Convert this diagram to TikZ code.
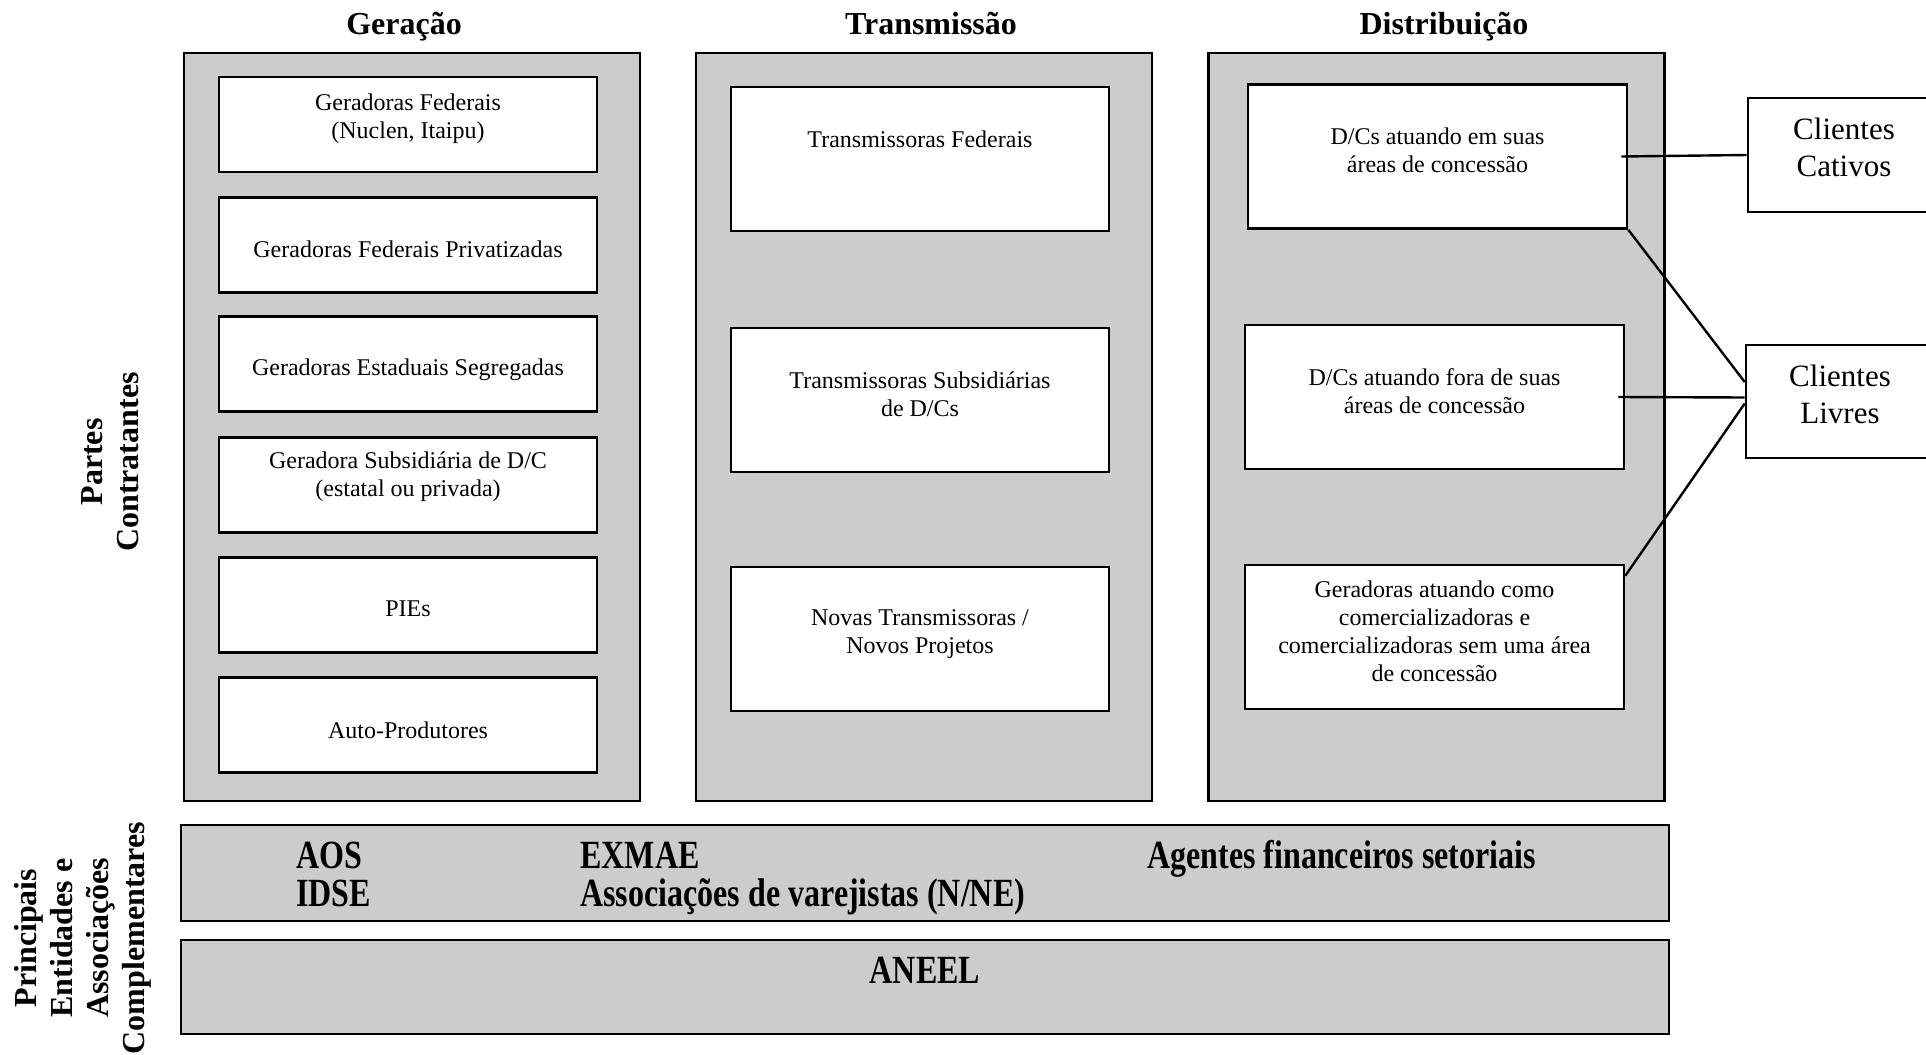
\documentclass[tikz,border=0pt]{standalone}
\usepackage{fontspec}
\setmainfont{Liberation Serif}
\newfontfamily\barfont[FakeStretch=0.8]{Liberation Serif}
\definecolor{panelgray}{RGB}{204,204,204}

\begin{document}
\begin{tikzpicture}[%
      x=0.5pt, y=-0.5pt,
      panel/.style={draw, line width=1.3pt, fill=panelgray, inner sep=0pt,
        minimum width=228pt, minimum height=374pt},
      genbox/.style={draw, line width=1.3pt, fill=white, inner sep=0pt,
        minimum width=189pt, minimum height=47.5pt},
      tallbox/.style={genbox, minimum height=72pt},
      boxtext/.style={align=center, inner sep=0pt, font=\fontsize{12}{14}\selectfont},
      bar/.style={draw, line width=1.3pt, fill=panelgray, inner sep=0pt, minimum width=744pt},
      bartext/.style={inner sep=0pt, anchor=base west, font=\barfont\fontsize{20}{22}\selectfont\bfseries},
      client/.style={draw, line width=1.3pt, fill=white, inner sep=0pt,
        minimum width=96pt, minimum height=57pt},
      clienttext/.style={align=center, inner sep=0pt, font=\fontsize{15.5}{18.5}\selectfont},
      title/.style={anchor=base, inner sep=0pt, font=\fontsize{16}{18}\selectfont\bfseries},
      sidelabel/.style={rotate=90, align=center, font=\fontsize{16}{18}\selectfont\bfseries},
      link/.style={line width=1.2pt},
      ]
      \clip (0,0) rectangle (1926,1054);

      \node [panel] (gerpanel) at (412,427) {};
      \node [panel] (trapanel) at (924,427) {};
      \node [panel] (dispanel) at (1436.5,427) {};

      \node [title] (gertitle) at (404,35) {Geração};
      \node [title] (tratitle) at (931,35) {Transmissão};
      \node [title] (distitle) at (1444,35) {Distribuição};

      \node [genbox] (g1) at (408,124.5) {};
      \node [genbox] (g2) at (408,245) {};
      \node [genbox] (g3) at (408,364) {};
      \node [genbox] (g4) at (408,485) {};
      \node [genbox] (g5) at (408,605) {};
      \node [genbox] (g6) at (408,725) {};
      \node [boxtext] (g1text) at (408,119) {Geradoras Federais\\(Nuclen, Itaipu)};
      \node [boxtext] (g2text) at (408,249) {Geradoras Federais Privatizadas};
      \node [boxtext] (g3text) at (408,370) {Geradoras Estaduais Segregadas};
      \node [boxtext] (g4text) at (408,477) {Geradora Subsidiária de D/C\\(estatal ou privada)};
      \node [boxtext] (g5text) at (408,609) {PIEs};
      \node [boxtext] (g6text) at (408,730) {Auto-Produtores};

      \node [tallbox] (t1) at (920,159) {};
      \node [tallbox] (t2) at (920,400) {};
      \node [tallbox] (t3) at (920,639) {};
      \node [boxtext] (t1text) at (920,139) {Transmissoras Federais};
      \node [boxtext] (t2text) at (920,394) {Transmissoras Subsidiárias\\de D/Cs};
      \node [boxtext] (t3text) at (920,634) {Novas Transmissoras /\\Novos Projetos};

      \node [tallbox, minimum width=189.5pt] (d1) at (1437.5,156.5) {};
      \node [tallbox, minimum width=189.5pt] (d2) at (1434.5,397) {};
      \node [tallbox, minimum width=189.5pt] (d3) at (1434.5,637) {};
      \node [boxtext] (d1text) at (1437.5,150.5) {D/Cs atuando em suas\\áreas de concessão};
      \node [boxtext] (d2text) at (1434.5,391) {D/Cs atuando fora de suas\\áreas de concessão};
      \node [boxtext] (d3text) at (1434.5,631) {Geradoras atuando como\\comercializadoras e\\comercializadoras sem uma área\\de concessão};

      \node [client] (cativos) at (1844,155) {};
      \node [client, minimum height=56.5pt] (livres) at (1842,401.5) {};
      \node [clienttext] (cativostext) at (1844,147) {Clientes\\Cativos};
      \node [clienttext] (livrestext) at (1840,394) {Clientes\\Livres};

      \draw [link] ([xshift=-3.5pt]d1.east) -- (cativos.west);
      \draw [link] (d1.south east) -- ([yshift=9.75pt]livres.west);
      \draw [link] ([xshift=-3.5pt]d2.east) -- ([yshift=2pt]livres.west);
      \draw [link] ([yshift=-6pt]d3.north east) -- ([yshift=-1pt]livres.west);

      \node [bar, minimum height=48pt] (entbar) at (925,873) {};
      \node [bar, minimum height=47pt] (anelbar) at (925,987) {};

      \node [bartext] (aos) at (296,868) {AOS};
      \node [bartext] (idse) at (296,906) {IDSE};
      \node [bartext] (exmae) at (580,868) {EXMAE};
      \node [bartext] (assoc) at (580,906) {Associações de varejistas (N/NE)};
      \node [bartext] (agentes) at (1147,868) {Agentes financeiros setoriais};
      \node [bartext, anchor=base] (aneel) at (925,983) {ANEEL};

      \node [sidelabel] (partes) at (110,462) {Partes\\Contratantes};
      \node [sidelabel] (principais) at (83,938) {Principais\\Entidades e\\Associações\\Complementares};
\end{tikzpicture}
\end{document}
